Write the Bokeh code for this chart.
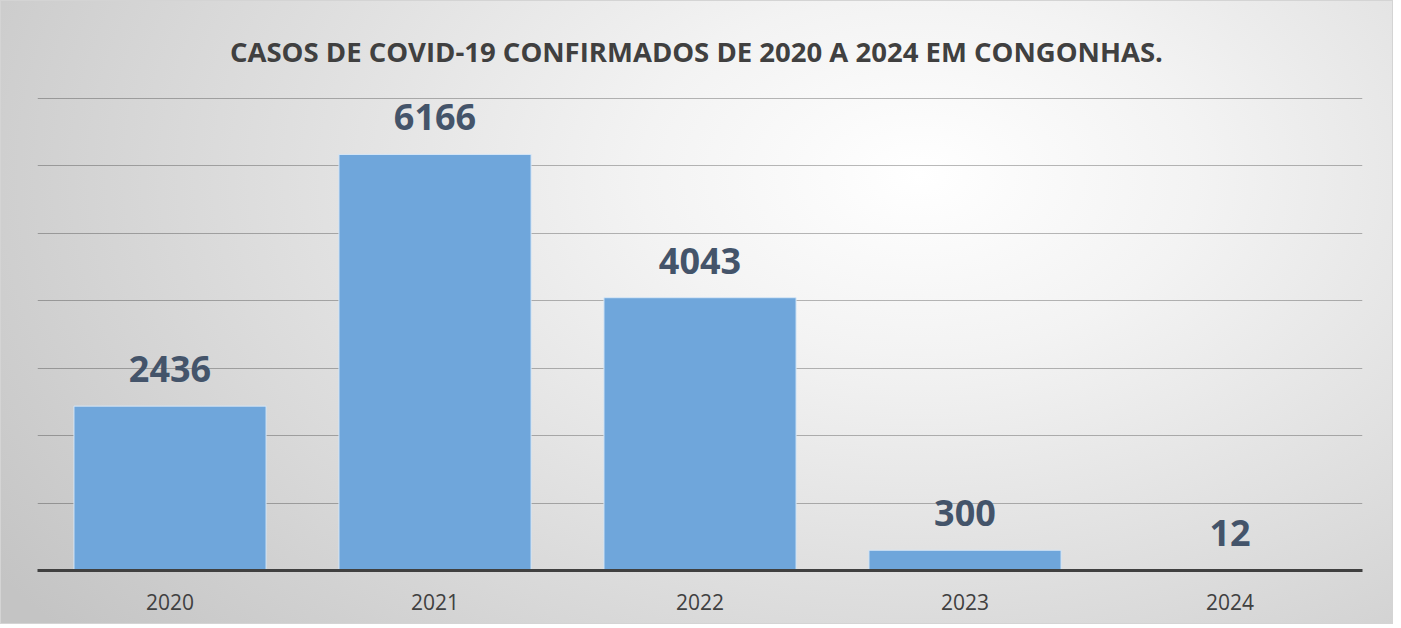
from bokeh.plotting import figure
from bokeh.models import ColumnDataSource, Range1d, FixedTicker
from bokeh.core.properties import value
from bokeh.embed import file_html
from bokeh.resources import INLINE

years = ["2020", "2021", "2022", "2023", "2024"]
cases = [2436, 6166, 4043, 300, 12]
labels = [str(c) for c in cases]
title_text = "CASOS DE COVID-19 CONFIRMADOS DE  2020 A 2024 EM CONGONHAS."
grid_ticks = [1000, 2000, 3000, 4000, 5000, 6000, 7000]

src = ColumnDataSource(dict(x=years, top=cases, label=labels))

p = figure(
    x_range=years, y_range=Range1d(0, 7010),
    width=1393, height=624,
    output_backend="svg", toolbar_location=None,
    min_border_left=36, min_border_right=32, min_border_top=96, min_border_bottom=55,
)
p.styles = {
    "background": "radial-gradient(ellipse 80% 115% at 66% 28%, #ffffff 0%, #f3f3f3 25%, #c4c4c4 100%)",
    "border": "1px solid #d4d4d4",
}
p.background_fill_color = None
p.border_fill_color = None
p.outline_line_color = None

p.title.text = title_text
p.title.align = "center"
p.title.text_font = "Open Sans"
p.title.text_font_style = "bold"
p.title.text_font_size = "27.5px"
p.title.text_color = "#404040"
p.title.standoff = 55

p.vbar(x="x", top="top", width=0.725, source=src,
       fill_color="#6FA6DB", line_color="#d6e6f6", line_width=1)

p.text(x="x", y="top", text="label", source=src,
       text_font=value("Open Sans"), text_font_style="bold", text_font_size="36px",
       text_color="#44546A", text_align="center", text_baseline="alphabetic",
       y_offset=-37)

p.yaxis.visible = False
p.ygrid.ticker = FixedTicker(ticks=grid_ticks)
p.ygrid.grid_line_color = "#000000"
p.ygrid.grid_line_alpha = 0.27
p.ygrid.grid_line_width = 1
p.xgrid.grid_line_color = None

ax = p.xaxis[0]
ax.axis_line_color = "#404040"
ax.axis_line_width = 3
ax.major_tick_line_color = None
ax.minor_tick_line_color = None
ax.major_label_text_font = "Open Sans"
ax.major_label_text_font_size = "21px"
ax.major_label_text_color = "#404040"
ax.major_label_standoff = 17
p.x_range.range_padding = 0

open("out.html", "w").write(file_html(p, INLINE))
